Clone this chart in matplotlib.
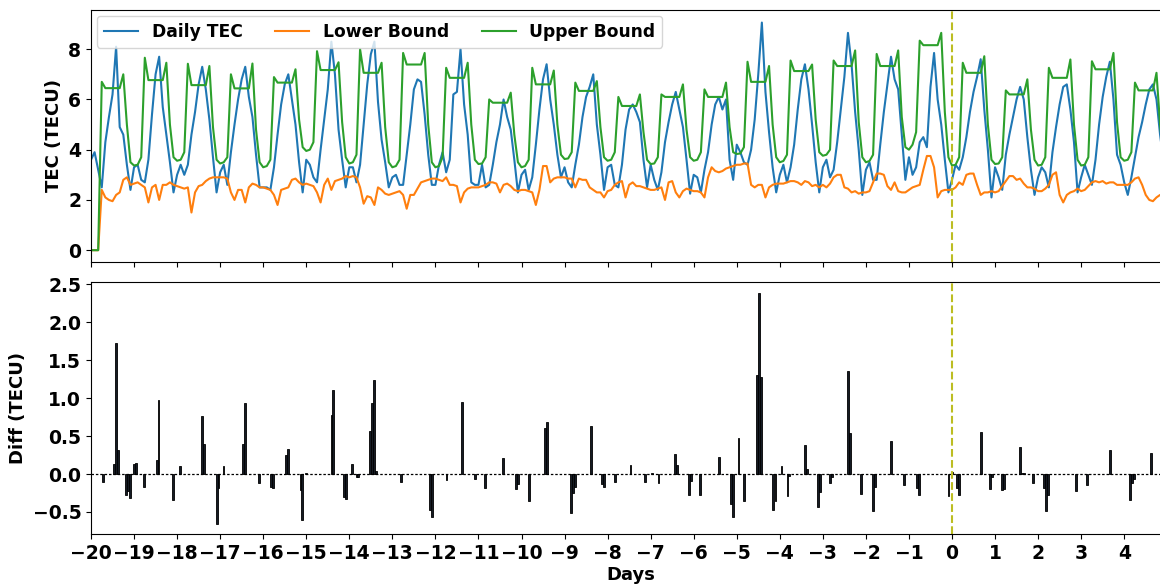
import numpy as np
import matplotlib
matplotlib.use("Agg")
import matplotlib.pyplot as plt

# two-hourly samples, one row per day from day -20 to day 4
daily_tec = [
    [3.6, 3.9, 3.2, 2.5, 4.3, 5.3, 6.2, 8.1, 4.9, 4.6, 3.4, 2.4],
    [3.3, 3.4, 2.8, 2.7, 3.6, 5.4, 7.0, 7.7, 5.7, 4.6, 3.5, 2.3],
    [3.0, 3.4, 3.0, 3.4, 4.6, 5.5, 6.6, 7.3, 6.4, 5.2, 3.7, 2.3],
    [3.1, 3.4, 2.6, 3.9, 5.0, 6.0, 6.8, 7.3, 6.1, 5.3, 3.8, 2.5],
    [2.5, 2.5, 2.4, 3.3, 4.6, 5.8, 6.6, 7.0, 6.0, 5.0, 3.5, 2.3],
    [3.6, 3.4, 2.9, 2.7, 4.0, 5.2, 6.4, 8.3, 7.0, 4.8, 3.6, 2.5],
    [3.3, 3.3, 2.7, 3.4, 5.0, 6.6, 7.8, 8.3, 5.9, 4.4, 3.5, 2.5],
    [2.9, 3.0, 2.6, 2.6, 3.8, 5.0, 6.4, 6.8, 6.7, 5.4, 3.8, 2.6],
    [2.6, 3.4, 3.9, 3.1, 3.6, 6.2, 6.3, 8.0, 5.8, 4.6, 2.7, 2.6],
    [2.6, 3.4, 2.5, 2.6, 3.4, 4.3, 5.0, 6.0, 5.3, 4.8, 3.6, 2.3],
    [3.0, 3.2, 2.4, 2.9, 4.2, 5.6, 6.8, 7.4, 6.0, 5.0, 3.8, 2.9],
    [3.3, 2.7, 2.5, 3.4, 4.2, 5.3, 6.1, 6.5, 7.0, 5.0, 3.8, 2.4],
    [3.3, 3.4, 2.6, 2.5, 3.4, 4.8, 5.6, 5.8, 5.5, 5.1, 3.6, 2.5],
    [3.4, 2.8, 2.4, 3.1, 4.3, 5.1, 5.8, 6.3, 5.6, 4.9, 3.6, 2.25],
    [3.0, 2.9, 2.3, 3.2, 3.9, 5.0, 5.8, 6.1, 5.6, 6.0, 3.6, 2.8],
    [4.2, 3.9, 3.5, 3.4, 4.0, 5.2, 7.0, 9.06, 6.3, 4.7, 3.3, 2.3],
    [3.0, 3.4, 2.7, 3.3, 4.2, 5.6, 6.8, 7.4, 6.4, 5.0, 3.5, 2.3],
    [3.3, 3.6, 2.9, 3.2, 4.3, 5.6, 6.9, 8.65, 7.4, 5.5, 4.0, 2.2],
    [3.2, 3.5, 2.8, 2.8, 4.2, 5.5, 6.6, 7.7, 6.8, 6.4, 4.6, 2.8],
    [3.7, 3.0, 3.3, 4.3, 4.5, 4.1, 6.5, 7.85, 6.0, 5.0, 3.6, 2.3],
    [2.8, 3.4, 3.2, 3.7, 4.5, 5.5, 6.3, 6.9, 7.6, 5.6, 4.0, 2.1],
    [3.3, 2.9, 2.4, 3.8, 4.6, 5.3, 6.0, 6.5, 6.0, 4.5, 3.2, 2.2],
    [2.9, 3.3, 3.1, 2.5, 3.9, 4.9, 5.8, 6.5, 6.6, 5.6, 4.3, 2.3],
    [2.9, 3.4, 3.0, 2.6, 3.6, 5.0, 6.1, 6.9, 7.5, 6.0, 3.8, 3.4],
    [2.7, 2.2, 2.9, 3.7, 4.5, 5.1, 5.8, 6.4, 6.6, 6.0, 4.6, 3.5],
]

lower_bound = [
    [0.0, 0.0, 0.0, 2.4, 2.1, 2.0, 1.95, 2.2, 2.3, 2.8, 2.9, 2.6],
    [2.65, 2.7, 2.6, 2.5, 1.9, 2.5, 2.6, 2.0, 2.6, 2.6, 2.7, 2.6],
    [2.55, 2.5, 2.45, 2.5, 1.5, 2.3, 2.55, 2.6, 2.75, 2.85, 2.9, 2.9],
    [2.9, 2.9, 2.85, 2.3, 2.0, 2.4, 2.4, 1.9, 2.5, 2.65, 2.6, 2.5],
    [2.5, 2.45, 2.4, 2.2, 1.8, 2.4, 2.45, 2.5, 2.8, 2.85, 2.7, 2.6],
    [2.65, 2.6, 2.55, 2.3, 1.9, 2.6, 2.85, 2.4, 2.75, 2.8, 2.85, 2.95],
    [2.9, 2.95, 2.9, 2.5, 1.85, 2.15, 2.1, 1.8, 2.5, 2.4, 2.25, 2.2],
    [2.25, 2.3, 2.35, 2.2, 1.65, 2.2, 2.2, 2.45, 2.7, 2.75, 2.8, 2.85],
    [2.85, 2.8, 2.75, 2.9, 2.6, 2.6, 2.55, 1.9, 2.3, 2.45, 2.5, 2.5],
    [2.5, 2.55, 2.6, 2.7, 2.7, 2.65, 2.3, 2.6, 2.65, 2.55, 2.4, 2.35],
    [2.4, 2.4, 2.35, 2.3, 1.8, 2.4, 3.35, 3.35, 2.7, 2.85, 2.9, 2.9],
    [2.9, 2.85, 2.85, 2.5, 2.85, 2.8, 2.8, 2.5, 2.4, 2.3, 2.3, 2.1],
    [2.35, 2.4, 2.6, 2.7, 2.75, 2.1, 2.6, 2.7, 2.55, 2.55, 2.5, 2.45],
    [2.4, 2.4, 2.45, 2.5, 2.0, 2.7, 2.75, 2.3, 2.1, 2.35, 2.45, 2.4],
    [2.35, 2.35, 2.3, 2.1, 2.9, 3.3, 3.15, 3.1, 3.15, 3.25, 3.3, 3.35],
    [3.4, 3.4, 3.45, 3.45, 2.6, 2.5, 2.6, 2.6, 2.1, 2.5, 2.6, 2.65],
    [2.65, 2.65, 2.7, 2.75, 2.75, 2.7, 2.6, 2.75, 2.7, 2.55, 2.6, 2.5],
    [2.6, 2.5, 2.65, 2.9, 3.0, 3.0, 2.5, 2.45, 2.3, 2.35, 2.25, 2.3],
    [2.3, 2.35, 2.7, 3.05, 3.05, 3.0, 2.55, 2.4, 2.7, 2.35, 2.3, 2.3],
    [2.4, 2.5, 2.55, 2.6, 3.2, 3.75, 3.75, 3.3, 2.1, 2.35, 2.4, 2.4],
    [2.4, 2.5, 2.7, 2.6, 3.0, 3.05, 3.05, 2.6, 2.2, 2.3, 2.3, 2.35],
    [2.3, 2.35, 2.55, 2.75, 2.95, 2.95, 2.8, 2.85, 2.65, 2.5, 2.5, 2.45],
    [2.35, 2.35, 2.45, 2.6, 3.0, 3.1, 2.2, 1.9, 2.2, 2.3, 2.35, 2.45],
    [2.35, 2.4, 2.55, 2.7, 2.75, 2.7, 2.75, 2.65, 2.7, 2.7, 2.6, 2.6],
    [2.6, 2.6, 2.7, 2.85, 2.9, 2.6, 2.2, 2.0, 1.95, 2.1, 2.2, 2.2],
]

upper_bound = [
    [0.0, 0.0, 0.0, 6.7, 6.45, 6.45, 6.45, 6.45, 6.45, 7.0, 5.0, 3.5],
    [3.37, 3.4, 3.7, 7.66, 6.77, 6.77, 6.77, 6.77, 6.77, 7.46, 5.0, 3.7],
    [3.56, 3.6, 3.9, 7.42, 6.57, 6.57, 6.57, 6.57, 6.57, 7.33, 4.9, 3.6],
    [3.45, 3.5, 3.7, 7.0, 6.44, 6.44, 6.44, 6.44, 6.44, 7.43, 4.8, 3.5],
    [3.3, 3.35, 3.6, 6.89, 6.67, 6.67, 6.67, 6.67, 6.67, 7.2, 5.2, 4.1],
    [3.95, 4.0, 4.3, 7.92, 7.17, 7.17, 7.17, 7.17, 7.17, 7.48, 5.1, 3.7],
    [3.45, 3.5, 3.8, 8.0, 7.06, 7.06, 7.06, 7.06, 7.06, 7.46, 4.9, 3.5],
    [3.3, 3.35, 3.6, 7.85, 7.39, 7.39, 7.39, 7.39, 7.39, 7.85, 5.0, 3.5],
    [3.3, 3.35, 3.7, 7.26, 6.86, 6.86, 6.86, 6.86, 6.86, 7.46, 5.0, 3.6],
    [3.43, 3.45, 3.7, 6.0, 5.87, 5.87, 5.87, 5.87, 5.87, 6.27, 4.6, 3.5],
    [3.3, 3.35, 3.6, 7.26, 6.6, 6.6, 6.6, 6.6, 6.6, 7.15, 5.0, 3.8],
    [3.63, 3.65, 3.9, 6.67, 6.34, 6.34, 6.34, 6.34, 6.34, 6.73, 4.9, 3.7],
    [3.56, 3.6, 3.9, 6.1, 5.74, 5.74, 5.74, 5.74, 5.74, 6.2, 4.7, 3.6],
    [3.43, 3.45, 3.7, 6.2, 6.1, 6.1, 6.1, 6.1, 6.1, 6.6, 4.8, 3.7],
    [3.56, 3.6, 3.9, 6.4, 6.1, 6.1, 6.1, 6.1, 6.1, 6.67, 4.9, 3.9],
    [3.83, 3.85, 4.1, 7.5, 6.7, 6.7, 6.7, 6.7, 6.7, 7.33, 5.0, 3.7],
    [3.5, 3.55, 3.8, 7.55, 7.13, 7.13, 7.13, 7.13, 7.13, 7.39, 5.2, 3.9],
    [3.76, 3.8, 4.0, 7.55, 7.33, 7.33, 7.33, 7.33, 7.33, 7.95, 5.1, 3.7],
    [3.5, 3.55, 3.8, 7.81, 7.33, 7.33, 7.33, 7.33, 7.33, 7.95, 5.3, 4.1],
    [4.0, 4.2, 4.7, 8.34, 8.16, 8.16, 8.16, 8.16, 8.16, 8.65, 5.5, 3.7],
    [3.37, 3.4, 3.7, 7.46, 7.06, 7.06, 7.06, 7.06, 7.06, 7.72, 5.0, 3.6],
    [3.43, 3.45, 3.7, 6.36, 6.2, 6.2, 6.2, 6.2, 6.2, 6.8, 4.8, 3.6],
    [3.37, 3.4, 3.7, 7.26, 6.86, 6.86, 6.86, 6.86, 6.86, 7.59, 5.0, 3.6],
    [3.37, 3.4, 3.7, 7.52, 7.2, 7.2, 7.2, 7.2, 7.2, 7.85, 5.1, 3.7],
    [3.56, 3.6, 3.9, 6.67, 6.36, 6.36, 6.36, 6.36, 6.36, 7.06, 5.0, 3.7],
]

# hourly exceedances (days, TECU)
diff_days = [
    -19.72, -19.47, -19.42, -19.37, -19.19, -19.14, -19.09, -19.01, -18.95, -18.77,
    -18.47, -18.43, -18.10, -17.93, -17.42, -17.38, -17.08, -17.04, -16.92, -16.47,
    -16.42, -16.10, -15.82, -15.77, -15.47, -15.42, -15.13, -15.09, -15.00, -14.41,
    -14.37, -14.12, -14.08, -13.93, -13.83, -13.79, -13.52, -13.47, -13.43, -13.38,
    -12.80, -12.12, -12.08, -11.74, -11.38, -11.08, -10.85, -10.43, -10.13, -10.09,
    -9.83, -9.45, -9.41, -8.85, -8.80, -8.76, -8.38, -8.13, -8.08, -7.83,
    -7.47, -7.14, -6.97, -6.82, -6.43, -6.39, -6.11, -6.07, -5.85, -5.41,
    -5.13, -5.09, -4.96, -4.83, -4.53, -4.48, -4.44, -4.15, -4.10, -3.96,
    -3.82, -3.78, -3.41, -3.37, -3.11, -3.07, -2.83, -2.79, -2.42, -2.37,
    -2.11, -1.84, -1.79, -1.42, -1.12, -0.81, -0.77, -0.08, 0.01, 0.12,
    0.16, 0.67, 0.88, 0.92, 1.16, 1.21, 1.58, 1.63, 1.67, 1.88,
    2.14, 2.19, 2.23, 2.88, 3.14, 3.67, 4.14, 4.18, 4.22, 4.62,
]
diff_values = [
    -0.10, 0.13, 1.72, 0.32, -0.27, -0.23, -0.31, 0.13, 0.15, -0.17,
    0.19, 0.98, -0.34, 0.11, 0.77, 0.39, -0.66, -0.19, 0.11, 0.39,
    0.93, -0.12, -0.17, -0.19, 0.25, 0.33, -0.21, -0.61, 0.01, 0.78,
    1.11, -0.30, -0.33, 0.13, -0.04, -0.04, 0.57, 0.93, 1.24, 0.04,
    -0.10, -0.47, -0.57, -0.08, 0.95, -0.07, -0.19, 0.21, -0.20, -0.13,
    -0.35, 0.61, 0.68, -0.51, -0.25, -0.17, 0.63, -0.13, -0.17, -0.10,
    0.12, -0.10, 0.02, -0.12, 0.27, 0.12, -0.28, -0.09, -0.28, 0.23,
    -0.40, -0.57, 0.47, -0.35, 1.30, 2.38, 1.28, -0.48, -0.35, 0.11,
    -0.29, -0.03, 0.38, 0.07, -0.43, -0.24, -0.12, -0.04, 1.36, 0.54,
    -0.26, -0.49, -0.17, 0.44, -0.15, -0.19, -0.27, -0.29, 0.03, -0.19,
    -0.27, 0.55, -0.20, -0.04, -0.21, -0.20, 0.36, 0.02, 0.02, -0.12,
    -0.19, -0.49, -0.28, -0.22, -0.15, 0.32, -0.34, -0.12, -0.06, 0.28,
]

day_ticks = list(range(-20, 5))

tec = np.array(daily_tec).ravel()
lower = np.array(lower_bound).ravel()
upper = np.array(upper_bound).ravel()
hours = np.arange(len(tec)) * 2
days = hours / 24 - 20

plt.rcParams['font.family'] = 'DejaVu Sans'
plt.rcParams['font.weight'] = 'bold'
plt.rcParams['axes.labelweight'] = 'bold'

fig = plt.figure(figsize=(11.6, 5.84), dpi=100)
left = 91 / 1160
width = (1170 - 91) / 1160
ax1 = fig.add_axes([left, 1 - 262 / 584, width, 252 / 584])
ax2 = fig.add_axes([left, 1 - 534 / 584, width, 252 / 584], sharex=ax1)

ax1.plot(days, tec, color='#1f77b4', lw=1.5, label='Daily TEC')
ax1.plot(days, lower, color='#ff7f0e', lw=1.5, label='Lower Bound')
ax1.plot(days, upper, color='#2ca02c', lw=1.5, label='Upper Bound')
ax1.axvline(0, color='#bcbd22', linestyle='--', lw=1.5)
ax1.set_ylim(-0.47, 9.56)
ax1.set_yticks([0, 2, 4, 6, 8])
ax1.set_ylabel('TEC (TECU)', fontsize=13, fontweight='bold')
ax1.legend(loc='upper left', ncol=3, prop={'weight': 'bold', 'size': 12.3},
           borderaxespad=0.35, columnspacing=1.9, handlelength=2.0)
ax1.tick_params(labelbottom=False, labelsize=13.5)

ax2.bar(diff_days, diff_values, width=1 / 24, color='#151b24', edgecolor='black', lw=0.6)
ax2.axhline(0, color='black', linestyle=(0, (2, 1.5)), lw=0.9)
ax2.axvline(0, color='#bcbd22', linestyle='--', lw=1.5)
ax2.set_ylim(-0.79, 2.53)
ax2.set_yticks([-0.5, 0.0, 0.5, 1.0, 1.5, 2.0, 2.5])
ax2.set_ylabel('Diff (TECU)', fontsize=13, fontweight='bold')
ax2.set_xlabel('Days', fontsize=13, fontweight='bold', labelpad=2)
ax2.set_xticks(day_ticks)
ax2.set_xlim(-20, (1170 - 91) / 43.05 - 20)
ax2.tick_params(labelsize=13.5)

for ax in (ax1, ax2):
    for lab in ax.get_xticklabels() + ax.get_yticklabels():
        lab.set_fontweight('bold')

plt.savefig('out.png', dpi=100)
